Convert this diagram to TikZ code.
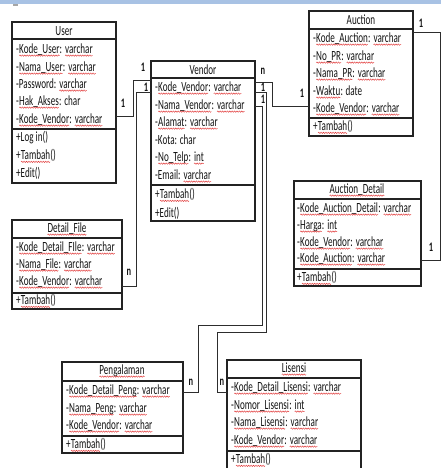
\documentclass[tikz,border=0pt]{standalone}
\usepackage{fontspec}
\setmainfont{Carlito}[FakeStretch=0.65]
\usetikzlibrary{calc,decorations.pathmorphing}
\definecolor{spell}{RGB}{225,55,55}
\definecolor{boxc}{RGB}{35,35,35}
\definecolor{linec}{RGB}{45,45,45}
\definecolor{txtc}{RGB}{20,20,20}
\definecolor{strip}{RGB}{168,194,228}
\newcommand\sq[1]{\tikz[baseline=(sqw.base)]{\node[inner sep=0pt,outer sep=0pt,anchor=base west] (sqw) at (0,0) {#1};\draw[spell,line width=0.45pt,decorate,decoration={snake,amplitude=0.7pt,segment length=2.4pt}] ([yshift=-2.4pt]sqw.base west) -- ([yshift=-2.4pt]sqw.base east);}}
\tikzset{
  cls/.style={draw=boxc, line width=1.1pt, anchor=north west, inner sep=0pt, outer sep=0pt},
  divl/.style={draw=boxc, line width=1.1pt},
  txt/.style={anchor=west, inner sep=0pt, font=\fontsize{14}{16}\selectfont, text=txtc},
  ttl/.style={anchor=center, inner sep=0pt, font=\fontsize{14}{16}\selectfont, text=txtc},
  lab/.style={anchor=center, inner sep=0pt, font=\fontsize{13}{15}\selectfont\bfseries, text=txtc},
  conn/.style={draw=linec, line width=1pt}
}
\begin{document}
\begin{tikzpicture}[x=1pt,y=-1pt]
\useasboundingbox (0,0) rectangle (441,468);
\clip (0,0) rectangle (441,468);
\fill[white] (0,0) rectangle (441,468);
\fill[strip] (0,0) rectangle (441,4);
\fill[gray!70] (13,4) rectangle (18,6);

% ---------- User ----------
\node[cls, minimum width=104pt, minimum height=161pt] (user) at (12,22) {};
\draw[divl] (12,39) -- (116,39);
\draw[divl] (12,129) -- (116,129);
\node[ttl] (userT) at (64,31) {User};
\node[txt] (u1) at (16,50) {-\sq{Kode\_User}: \sq{varchar}};
\node[txt] (u2) at (16,68) {-\sq{Nama\_User}: \sq{varchar}};
\node[txt] (u3) at (16,85) {-Password: \sq{varchar}};
\node[txt] (u4) at (16,102) {-\sq{Hak\_Akses}: char};
\node[txt] (u5) at (16,120) {-\sq{Kode\_Vendor}: \sq{varchar}};
\node[txt] (u6) at (16,138) {+Log in()};
\node[txt] (u7) at (16,156) {+\sq{Tambah}()};
\node[txt] (u8) at (16,173) {+Edit()};

% ---------- Vendor ----------
\node[cls, minimum width=104pt, minimum height=160pt] (vendor) at (151,61) {};
\draw[divl] (151,78) -- (255,78);
\draw[divl] (151,185) -- (255,185);
\node[ttl] (vendorT) at (203,70) {Vendor};
\node[txt] (v1) at (155,88) {-\sq{Kode\_Vendor}: \sq{varchar}};
\node[txt] (v2) at (155,106) {-\sq{Nama\_Vendor}: \sq{varchar}};
\node[txt] (v3) at (155,123) {-\sq{Alamat}: \sq{varchar}};
\node[txt] (v4) at (155,140) {-Kota: char};
\node[txt] (v5) at (155,158) {-\sq{No\_Telp}: \sq{int}};
\node[txt] (v6) at (155,176) {-Email: \sq{varchar}};
\node[txt] (v7) at (155,195) {+\sq{Tambah}()};
\node[txt] (v8) at (155,213) {+Edit()};

% ---------- Auction ----------
\node[cls, minimum width=104pt, minimum height=125pt] (auction) at (309,11) {};
\draw[divl] (309,29) -- (413,29);
\draw[divl] (309,118) -- (413,118);
\node[ttl] (auctionT) at (361,20) {Auction};
\node[txt] (a1) at (313,39) {-\sq{Kode\_Auction}: \sq{varchar}};
\node[txt] (a2) at (313,57) {-\sq{No\_PR}: \sq{varchar}};
\node[txt] (a3) at (313,74) {-\sq{Nama\_PR}: \sq{varchar}};
\node[txt] (a4) at (313,92) {-\sq{Waktu}: date};
\node[txt] (a5) at (313,109) {-\sq{Kode\_Vendor}: \sq{varchar}};
\node[txt] (a6) at (313,127) {+\sq{Tambah}()};

% ---------- Auction_Detail ----------
\node[cls, minimum width=127pt, minimum height=105pt] (adet) at (294,181) {};
\draw[divl] (294,199) -- (421,199);
\draw[divl] (294,269) -- (421,269);
\node[ttl] (adetT) at (357,190) {\sq{Auction\_Detail}};
\node[txt] (d1) at (297,209) {-\sq{Kode\_Auction\_Detail}: \sq{varchar}};
\node[txt] (d2) at (297,226) {-\sq{Harga}: \sq{int}};
\node[txt] (d3) at (297,243) {-\sq{Kode\_Vendor}: \sq{varchar}};
\node[txt] (d4) at (297,259) {-\sq{Kode\_Auction}: \sq{varchar}};
\node[txt] (d5) at (297,278) {+\sq{Tambah}()};

% ---------- Detail_File ----------
\node[cls, minimum width=110pt, minimum height=89pt] (dfile) at (12,220) {};
\draw[divl] (12,238) -- (122,238);
\draw[divl] (12,293) -- (122,293);
\node[ttl] (dfileT) at (67,229) {\sq{Detail\_File}};
\node[txt] (f1) at (16,248) {-\sq{Kode\_Detail\_FIle}: \sq{varchar}};
\node[txt] (f2) at (16,265) {-\sq{Nama\_File}: \sq{varchar}};
\node[txt] (f3) at (16,282) {-\sq{Kode\_Vendor}: \sq{varchar}};
\node[txt] (f4) at (16,301) {+\sq{Tambah}()};

% ---------- Pengalaman ----------
\node[cls, minimum width=121pt, minimum height=91pt] (peng) at (62,362) {};
\draw[divl] (62,381) -- (183,381);
\draw[divl] (62,436) -- (183,436);
\node[ttl] (pengT) at (122,371) {\sq{Pengalaman}};
\node[txt] (p1) at (66,391) {-\sq{Kode\_Detail\_Peng}: \sq{varchar}};
\node[txt] (p2) at (66,409) {-\sq{Nama\_Peng}: \sq{varchar}};
\node[txt] (p3) at (66,426) {-\sq{Kode\_Vendor}: \sq{varchar}};
\node[txt] (p4) at (66,445) {+\sq{Tambah}()};

% ---------- Lisensi ----------
\node[cls, minimum width=134pt, minimum height=116pt] (lis) at (227,360) {};
\draw[divl] (227,378) -- (361,378);
\draw[divl] (227,451) -- (361,451);
\node[ttl] (lisT) at (294,369) {\sq{Lisensi}};
\node[txt] (l1) at (231,388) {-\sq{Kode\_Detail\_Lisensi}: \sq{varchar}};
\node[txt] (l2) at (231,406) {-\sq{Nomor\_Lisensi}: \sq{int}};
\node[txt] (l3) at (231,423) {-\sq{Nama\_Lisensi}: \sq{varchar}};
\node[txt] (l4) at (231,441) {-\sq{Kode\_Vendor}: \sq{varchar}};
\node[txt] (l5) at (231,460) {+\sq{Tambah}()};

% ---------- connectors ----------
\draw[conn] ($(user.north east)+(0,95)$) -- ++(17,0) |- ($(vendor.north west)+(0,20)$);
\draw[conn] ($(vendor.north west)+(0,32)$) -- ++(-15,0) |- ($(dfile.north east)+(0,66)$);
\draw[conn] ($(vendor.north east)+(0,22)$) -- ++(17,0) |- ($(auction.north west)+(0,96)$);
\draw[conn] ($(vendor.north east)+(0,32)$) -- ++(11,0) -- ++(0,239) -- ++(-49,0) |- ($(lis.north west)+(0,32)$);
\draw[conn] ($(vendor.north east)+(0,46)$) -- ++(7,0) -- ++(0,218) -- ++(-64,0) |- ($(peng.north east)+(0,30)$);
\draw[conn] ($(auction.north east)+(0,22)$) -- ++(27,0) |- ($(adet.north east)+(0,79)$);

% ---------- multiplicities ----------
\node[lab] (m1) at (123,103) {1};
\node[lab] (m2) at (143,67) {1};
\node[lab] (m3) at (146,87) {1};
\node[lab] (m4) at (129,272) {n};
\node[lab] (m5) at (263,71) {n};
\node[lab] (m6) at (263,87) {1};
\node[lab] (m7) at (263,99) {1};
\node[lab] (m8) at (302,93) {1};
\node[lab] (m9) at (191,382) {n};
\node[lab] (m10) at (222,382) {n};
\node[lab] (m11) at (421,23) {1};
\node[lab] (m12) at (431,247) {1};
\end{tikzpicture}
\end{document}
